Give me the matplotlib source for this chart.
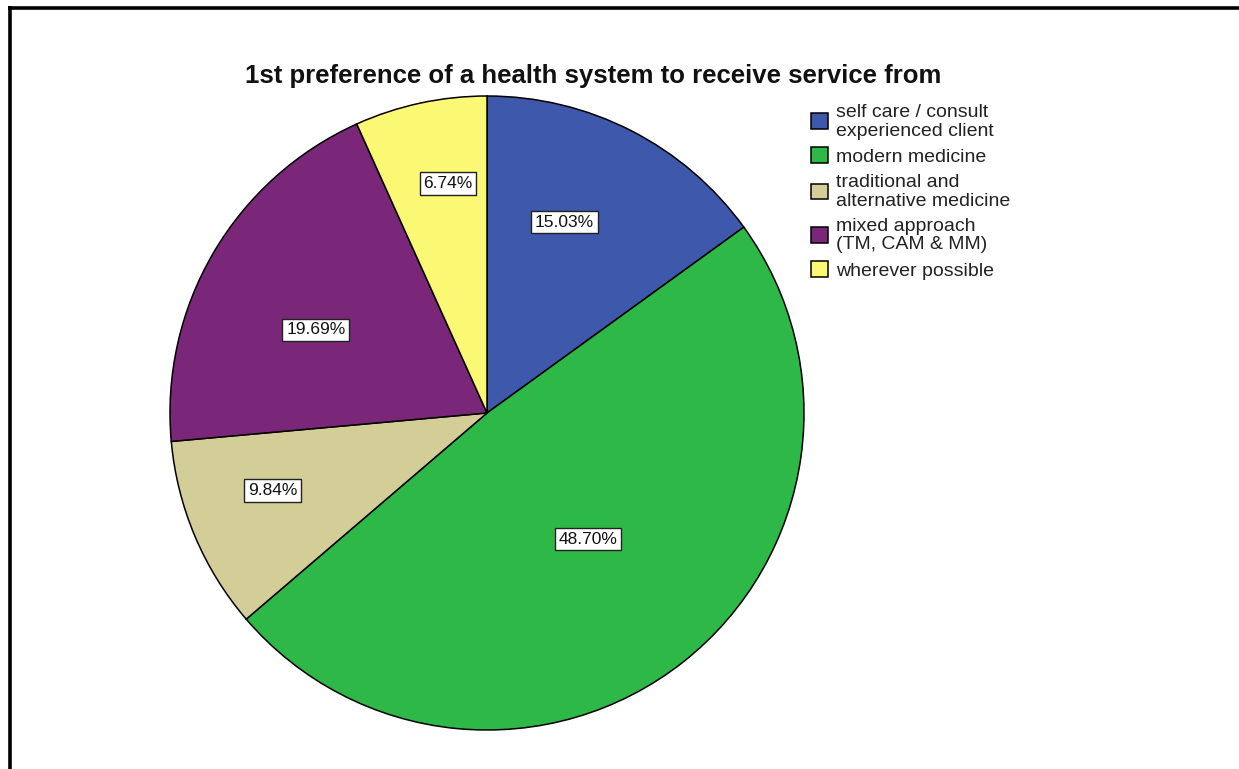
import matplotlib
matplotlib.use("Agg")
import matplotlib.pyplot as plt
from matplotlib.lines import Line2D
import numpy as np

plt.rcParams['font.family'] = ['Liberation Sans', 'DejaVu Sans']

title = "1st preference of a health system to receive service from"
categories = [
    "self care / consult\nexperienced client",
    "modern medicine",
    "traditional and\nalternative medicine",
    "mixed approach\n(TM, CAM & MM)",
    "wherever possible",
]
percentages = [15.03, 48.70, 9.84, 19.69, 6.74]
colors = ["#3E58AC", "#2EB848", "#D3CE97", "#7B2779", "#FBF873"]
# radial placement of each percentage box (fraction of radius)
label_radius = [0.65, 0.51, 0.72, 0.60, 0.735]
label_angle_shift = [5.0, 0.5, -3.0, 4.4, -2.5]

W, H = 1239, 769
fig = plt.figure(figsize=(W / 100, H / 100), dpi=100)
fig.patch.set_facecolor("white")

# outer frame (top and left edges)
fig.add_artist(Line2D([8 / W, 1.0], [1 - 7.5 / H, 1 - 7.5 / H], color="black",
                      lw=2.6, solid_capstyle="butt", transform=fig.transFigure))
fig.add_artist(Line2D([9.5 / W, 9.5 / W], [0.0, 1 - 6 / H], color="black",
                      lw=2.6, solid_capstyle="butt", transform=fig.transFigure))

cx, cy, r = 487, 413, 317
ax = fig.add_axes([(cx - r) / W, (H - cy - r) / H, 2 * r / W, 2 * r / H])

wedges, _ = ax.pie(percentages, colors=colors, startangle=90, counterclock=False,
                   radius=1.0,
                   wedgeprops=dict(edgecolor="black", linewidth=1.1))
ax.set_xlim(-1, 1)
ax.set_ylim(-1, 1)
ax.set_aspect("equal")
ax.axis("off")
for w in wedges:
    w.set_clip_on(False)

for w, pct, rr, sh in zip(wedges, percentages, label_radius, label_angle_shift):
    mid = np.deg2rad((w.theta1 + w.theta2) / 2 + sh)
    ax.text(rr * np.cos(mid), rr * np.sin(mid), f"{pct:.2f}%",
            ha="center", va="center", fontsize=12.5, color="#111111",
            bbox=dict(boxstyle="square,pad=0.22", facecolor="white",
                      edgecolor="#222222", linewidth=1.0))

fig.text(593 / W, 1 - 76 / H, title, ha="center", va="center",
         fontsize=18.5, fontweight="bold", color="#111111")

leg = fig.legend(wedges, categories, loc="upper left",
                 bbox_to_anchor=(797 / W, 1 - 90 / H), frameon=False,
                 fontsize=14, handlelength=0.88, handleheight=0.88,
                 handletextpad=0.45, labelspacing=0.40, borderpad=0.2)
for t in leg.get_texts():
    t.set_linespacing(1.15)
    t.set_color("#222222")

fig.savefig("out.png", dpi=100, facecolor="white")
